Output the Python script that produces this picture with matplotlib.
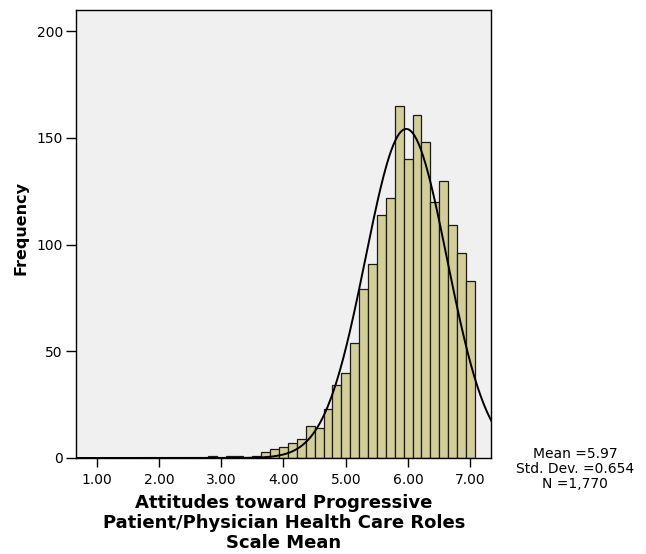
import numpy as np
import matplotlib
matplotlib.use("Agg")
import matplotlib.pyplot as plt

plt.rcParams["font.family"] = ["DejaVu Sans"]

# bins are 1/7 wide, centred on k/7
bin_k = [20, 22, 23, 25, 26, 27, 28, 29, 30, 31, 32, 33, 34, 35, 36, 37, 38,
         39, 40, 41, 42, 43, 44, 45, 46, 47, 48, 49]
counts = [1, 1, 1, 1, 3, 4, 5, 7, 9, 15, 14, 23, 34, 40, 54, 79, 91,
          114, 122, 165, 140, 161, 148, 120, 130, 109, 96, 83]
mean, sd, n = 5.97, 0.654, 1770
x_ticks = [1, 2, 3, 4, 5, 6, 7]
y_ticks = [0, 50, 100, 150, 200]

width = 1 / 7
centers = np.array(bin_k) / 7

fig = plt.figure(figsize=(6.46, 5.54), dpi=100)
ax = fig.add_axes([0.1176, 0.1733, 0.6424, 0.8087])
ax.set_facecolor("#F0F0F0")

ax.bar(centers, counts, width=width, color="#D3CE98", edgecolor="#1a1a1a",
       linewidth=0.9, zorder=2)

# normal curve scaled to the counts
xs = np.linspace(0.6, 7.4, 400)
pdf = n * width * np.exp(-0.5 * ((xs - mean) / sd) ** 2) / (sd * np.sqrt(2 * np.pi))
ax.plot(xs, pdf, color="black", linewidth=1.4, zorder=3)

ax.set_xlim(0.67, 7.33)
ax.set_ylim(0, 210)
ax.set_xticks(x_ticks)
ax.set_xticklabels([f"{v:.2f}" for v in x_ticks])
ax.set_yticks(y_ticks)
ax.tick_params(axis="x", direction="out", length=6.5, width=1, pad=4,
               labelsize=10, colors="black")
ax.tick_params(axis="y", direction="out", length=7.5, width=1, pad=2,
               labelsize=10, colors="black")
for s in ax.spines.values():
    s.set_color("black")
    s.set_linewidth(1)

fig.text(21 / 646, 1 - 228 / 554, "Frequency", rotation=90, ha="center",
         va="center", fontsize=11.5, fontweight="bold")
fig.text(284 / 646, 1 - 494 / 554,
         "Attitudes toward Progressive\nPatient/Physician Health Care Roles\nScale Mean",
         ha="center", va="top", fontsize=13, fontweight="bold", linespacing=1.15)

fig.text(575 / 646, 1 - 469 / 554, f"Mean ={mean:.2f}\nStd. Dev. ={sd:.3f}\nN ={n:,}",
         ha="center", va="center", fontsize=10, linespacing=1.05)

fig.savefig("out.png", dpi=100)
